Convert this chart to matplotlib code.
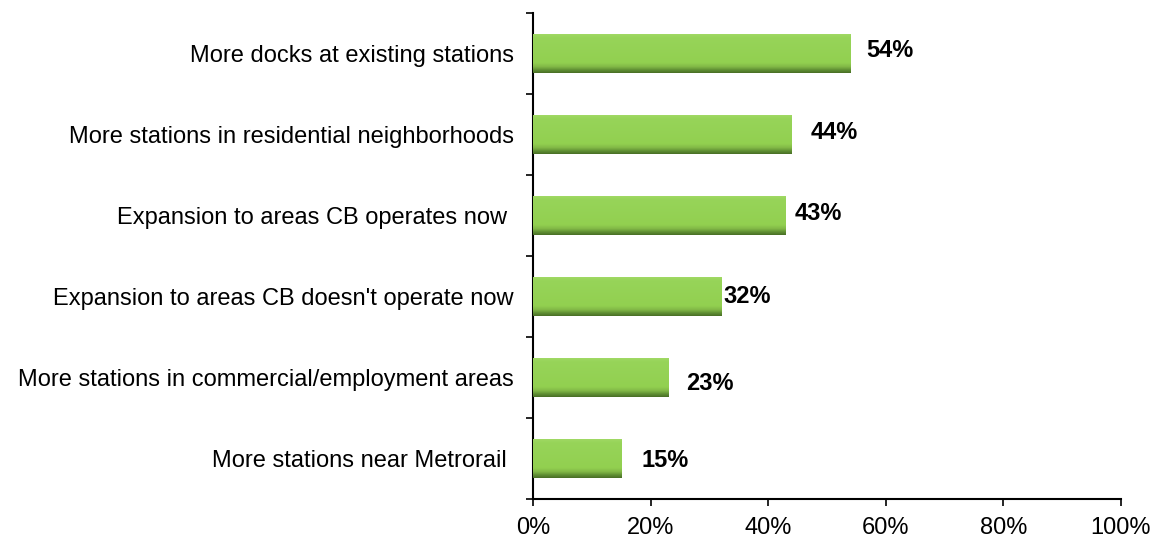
import matplotlib
matplotlib.use("Agg")
import matplotlib.pyplot as plt
import numpy as np
from matplotlib.colors import LinearSegmentedColormap

categories = [
    "More docks at existing stations",
    "More stations in residential neighborhoods",
    "Expansion to areas CB operates now ",
    "Expansion to areas CB doesn't operate now",
    "More stations in commercial/employment areas",
    "More stations near Metrorail ",
]
values = [54, 44, 43, 32, 23, 15]
value_labels = ["54%", "44%", "43%", "32%", "23%", "15%"]
x_ticks = [0, 20, 40, 60, 80, 100]
x_tick_labels = ["0%", "20%", "40%", "60%", "80%", "100%"]

# label offsets (style) to mimic original label placement
label_dx = [2.7, 3.2, 1.5, 0.35, 3.1, 3.4]
label_dy = [-0.04, -0.03, -0.03, 0.0, 0.07, 0.03]

plt.rcParams['font.family'] = ['Liberation Sans', 'DejaVu Sans']

fig = plt.figure(figsize=(11.54, 5.42), dpi=100)
ax = fig.add_axes([533 / 1154, 43 / 542, 588 / 1154, 486 / 542])

n = len(categories)
ypos = np.arange(n)
bar_h = 0.49

cmap = LinearSegmentedColormap.from_list(
    "bar", [(0.0, "#a3da68"), (0.1, "#97d459"), (0.75, "#92d050"),
            (0.85, "#82b846"), (0.93, "#5f8f33"), (1.0, "#4a7026")])
grad = np.linspace(0, 1, 64).reshape(-1, 1)

for y, v in zip(ypos, values):
    bars = ax.barh(y, v, height=bar_h, color="#92d050", edgecolor="none", zorder=2)
    rect = bars[0]
    im = ax.imshow(grad, cmap=cmap, aspect="auto",
                   extent=(0, v, y + bar_h / 2, y - bar_h / 2),
                   origin="upper", zorder=3, interpolation="bilinear")
    im.set_clip_path(rect)

for y, v, lab, dx, dy in zip(ypos, values, value_labels, label_dx, label_dy):
    ax.text(v + dx, y + dy, lab, ha="left", va="center",
            fontsize=17, fontweight="bold", color="black")

ax.set_xlim(0, 100)
ax.set_ylim(n - 0.5, -0.5)

ax.set_xticks(x_ticks)
ax.set_xticklabels(x_tick_labels, fontsize=17)
ax.set_yticks(np.arange(n + 1) - 0.5)
ax.set_yticklabels([])
ax.set_yticks(ypos, minor=True)
ax.set_yticklabels(categories, minor=True, fontsize=17)
ax.tick_params(axis="y", which="minor", length=0, pad=14)
ax.tick_params(axis="y", which="major", direction="out", length=5, width=1.2)
ax.tick_params(axis="x", direction="out", length=5, width=1.2, pad=8)

for s in ["top", "right"]:
    ax.spines[s].set_visible(False)
for s in ["left", "bottom"]:
    ax.spines[s].set_linewidth(1.5)
    ax.spines[s].set_color("black")

fig.savefig("out.png", dpi=100, facecolor="white")
